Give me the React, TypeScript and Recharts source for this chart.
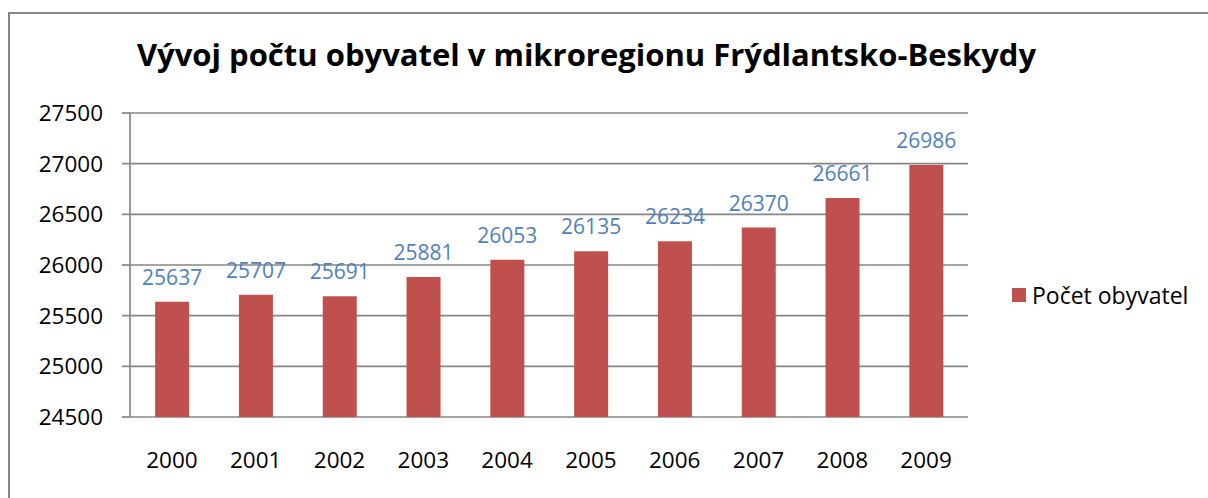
import React from 'react';
import {
  BarChart,
  Bar,
  XAxis,
  YAxis,
  CartesianGrid,
  LabelList,
} from 'recharts';

const years = ['2000', '2001', '2002', '2003', '2004', '2005', '2006', '2007', '2008', '2009'];
const population = [25637, 25707, 25691, 25881, 26053, 26135, 26234, 26370, 26661, 26986];
const yTicks = [24500, 25000, 25500, 26000, 26500, 27000, 27500];
const edgeTicks = [0, 1, 2, 3, 4, 5, 6, 7, 8, 9, 10];

const title = 'Vývoj počtu obyvatel v mikroregionu Frýdlantsko-Beskydy';
const seriesName = 'Počet obyvatel';

const data = years.map((year, i) => ({ year, value: population[i] }));

const FONT = '"Open Sans", "Noto Sans", sans-serif';
const GRID = '#868686';
const BAR = '#C0504D';
const LABEL = '#4F81BD';

export default function App() {
  return (
    <div
      style={{
        position: 'absolute',
        left: 0,
        top: 0,
        width: 1208,
        height: 498,
        overflow: 'hidden',
        background: '#fff',
        fontFamily: FONT,
      }}
    >
      {/* chart frame: only its top and left edges are in the picture */}
      <div style={{ position: 'absolute', left: 8, top: 12, width: 1200, height: 2, background: GRID }} />
      <div style={{ position: 'absolute', left: 8, top: 12, width: 2, height: 486, background: GRID }} />
      <div
        style={{
          position: 'absolute',
          left: 0,
          top: 33,
          width: 1173,
          textAlign: 'center',
          fontSize: 31,
          fontWeight: 700,
          color: '#000',
          whiteSpace: 'nowrap',
          lineHeight: '42px',
        }}
      >
        {title}
      </div>
      <div style={{ position: 'absolute', left: 0, top: 0 }}>
        <BarChart
          width={1208}
          height={498}
          data={data}
          margin={{ top: 113, right: 240, left: 0, bottom: 0 }}
          barCategoryGap="30%"
        >
          <CartesianGrid horizontal vertical={false} stroke={GRID} strokeWidth={1.7} />
          <XAxis
            xAxisId="edges"
            type="number"
            domain={[0, 10]}
            ticks={edgeTicks}
            allowDataOverflow
            height={0}
            tick={false}
            tickSize={8}
            tickLine={{ stroke: GRID, strokeWidth: 1.7 }}
            axisLine={{ stroke: GRID, strokeWidth: 1.7 }}
          />
          <XAxis
            dataKey="year"
            height={81}
            tickLine={false}
            tickSize={0}
            axisLine={false}
            tickMargin={35}
            tick={{ fill: '#000', fontSize: 22.5, fontFamily: FONT }}
          />
          <YAxis
            width={130}
            domain={[24500, 27500]}
            ticks={yTicks}
            allowDataOverflow
            tickSize={8}
            tickMargin={19}
            tickLine={{ stroke: GRID, strokeWidth: 1.7 }}
            axisLine={{ stroke: GRID, strokeWidth: 1.7 }}
            tick={{ fill: '#000', fontSize: 22.5, fontFamily: FONT }}
          />
          <Bar dataKey="value" name={seriesName} fill={BAR} isAnimationActive={false}>
            <LabelList
              dataKey="value"
              position="top"
              offset={17}
              fill={LABEL}
              fontSize={21}
              fontFamily={FONT}
            />
          </Bar>
        </BarChart>
      </div>
      {/* legend */}
      <div
        style={{
          position: 'absolute',
          left: 1012,
          top: 280,
          display: 'flex',
          alignItems: 'center',
          height: 30,
          fontSize: 23,
          color: '#000',
          whiteSpace: 'nowrap',
        }}
      >
        <span style={{ width: 14, height: 14, background: BAR, display: 'inline-block', marginRight: 6 }} />
        <span>{seriesName}</span>
      </div>
    </div>
  );
}
